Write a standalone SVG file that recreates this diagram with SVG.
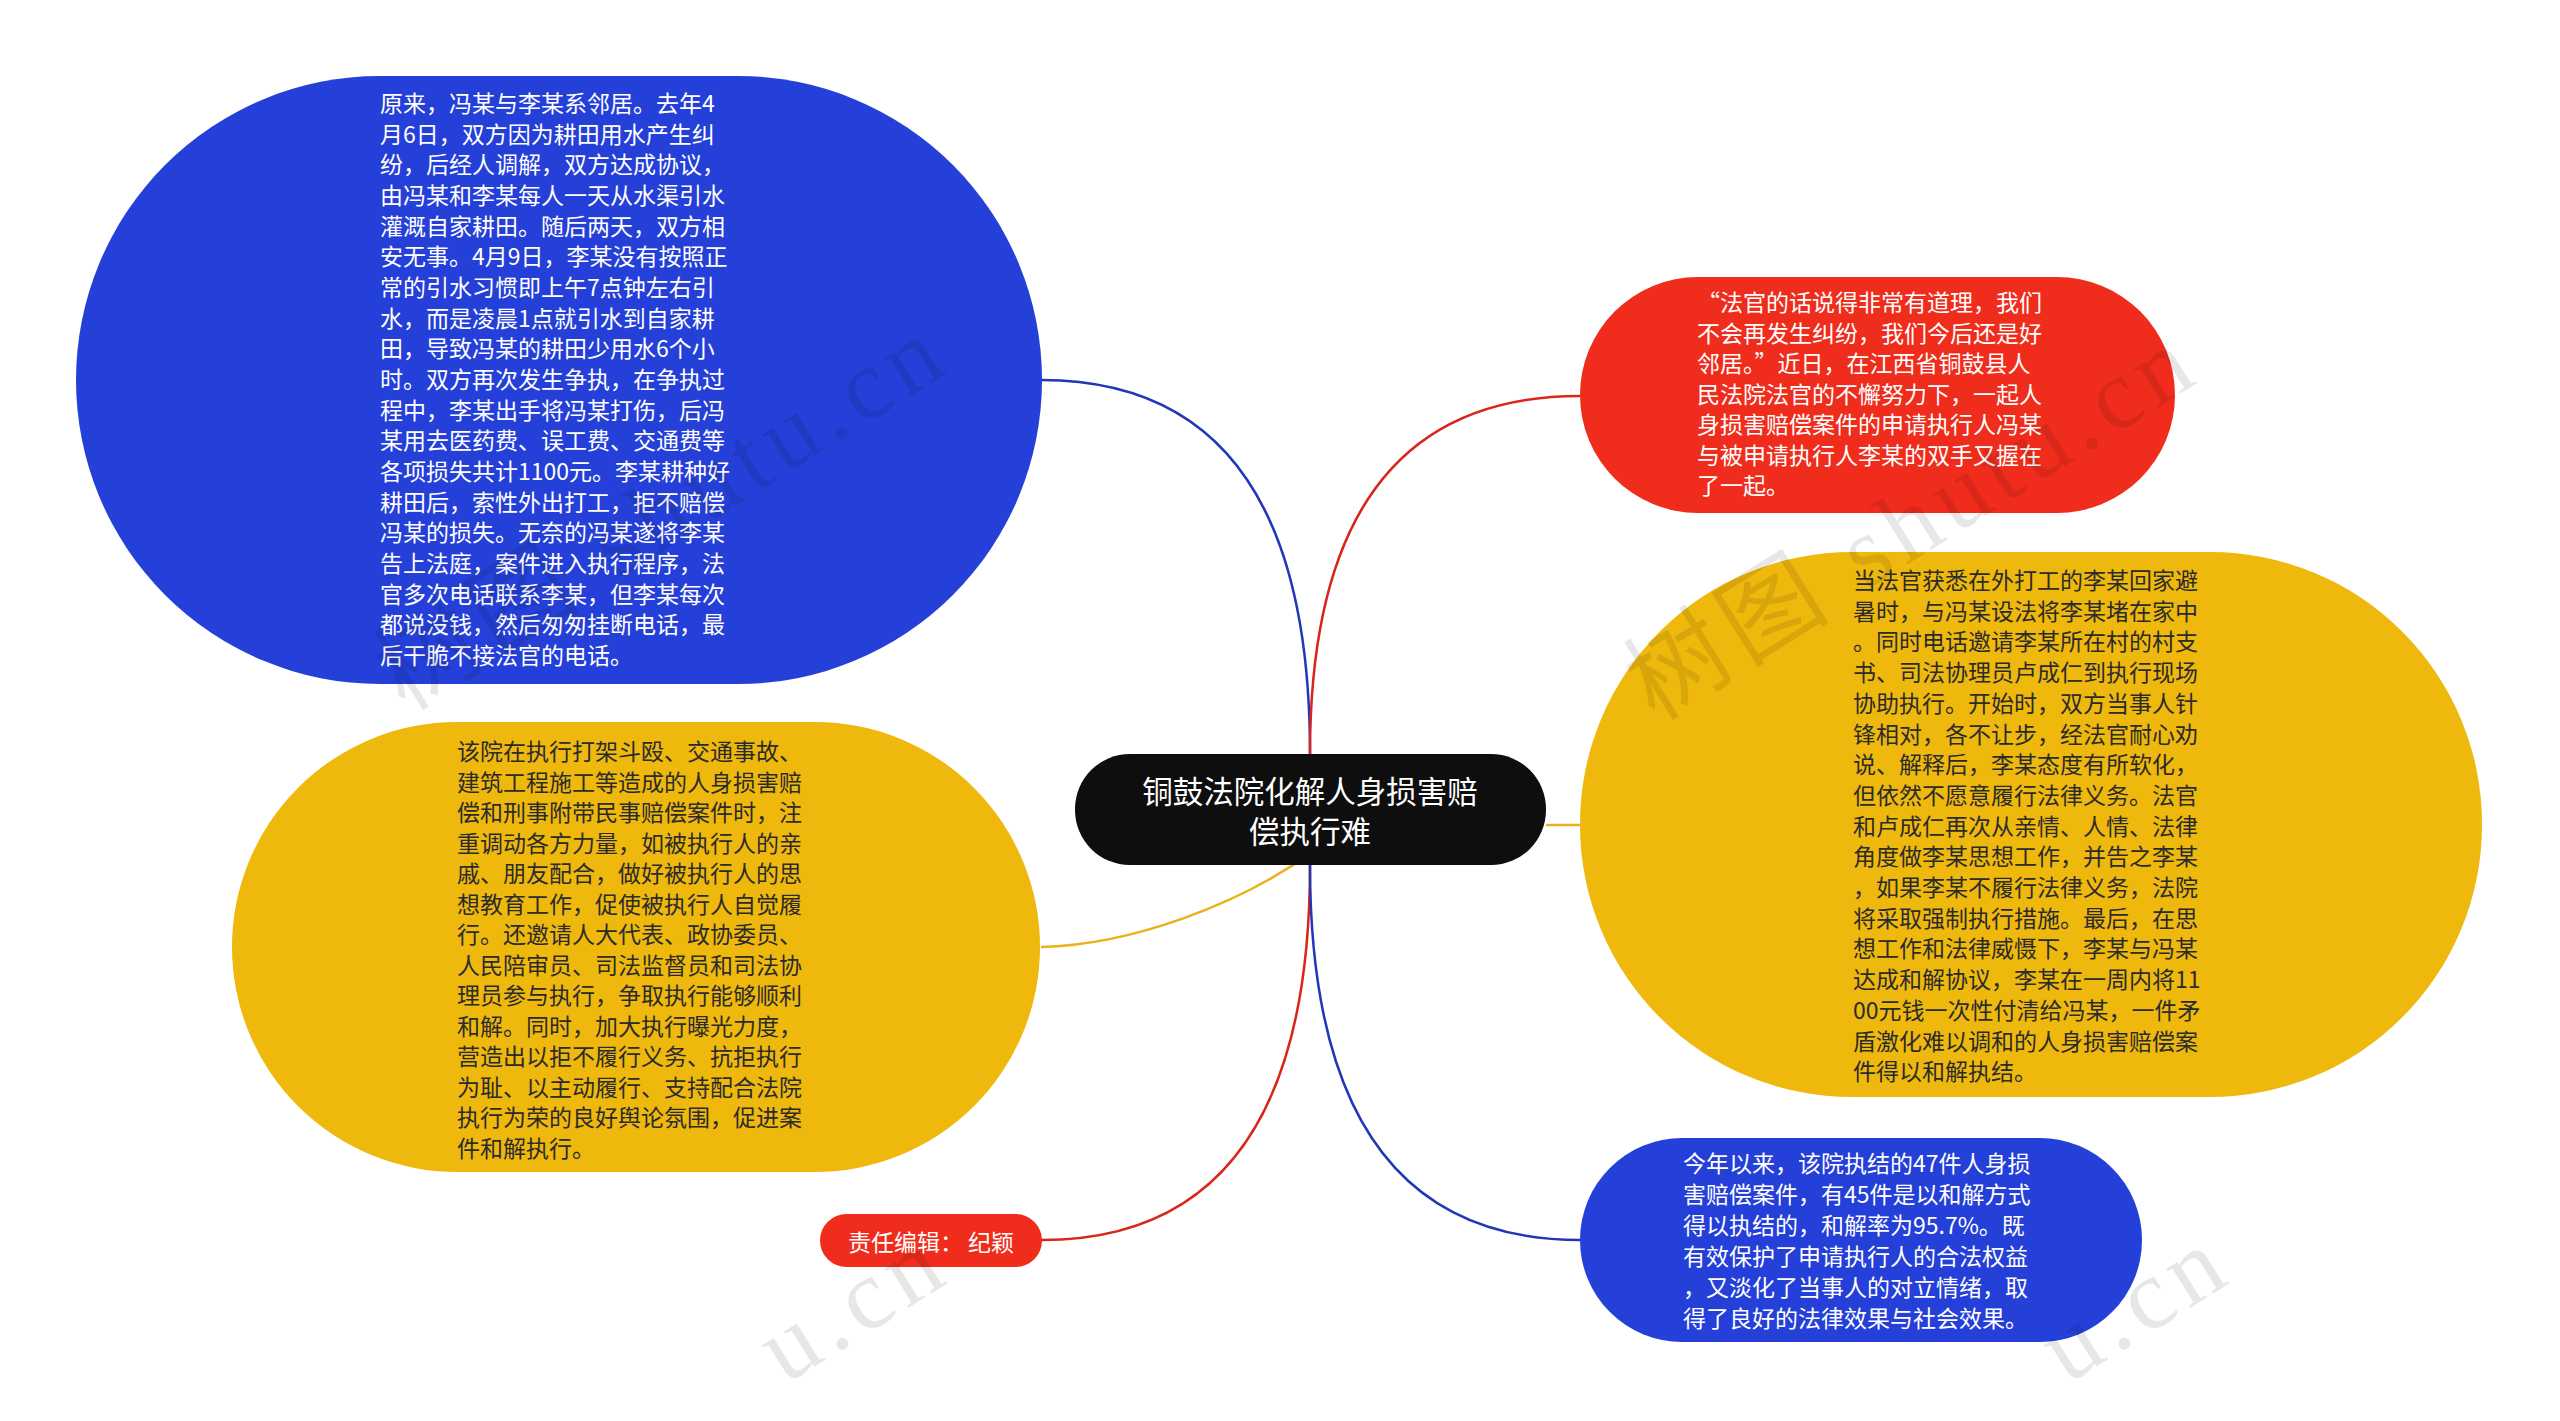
<svg xmlns="http://www.w3.org/2000/svg" width="2560" height="1421" viewBox="0 0 2560 1421">
<style>
.t{font-family:"Noto Sans CJK SC","Noto Sans",sans-serif;font-size:23px;}
.w{fill:#ffffff;}
.d{fill:#2b2b2b;}
.title{font-family:"Noto Sans CJK SC","Noto Sans",sans-serif;font-size:30.5px;fill:#ffffff;}
.conn{fill:none;stroke-width:2.5;}
.wm{font-family:"Liberation Serif","Noto Sans CJK SC",serif;font-size:100px;fill:#000;opacity:0.09;letter-spacing:8px;}
</style>
<rect width="2560" height="1421" fill="#ffffff"/>
<g id="connectors">
<path class="conn" stroke="#2237B8" d="M1310 754 Q1310 380 1041 380"/>
<path class="conn" stroke="#D9261C" d="M1310 754 Q1310 396 1580 396"/>
<path class="conn" stroke="#E9B21A" d="M1546 825 L1580 825"/>
<path class="conn" stroke="#E9B21A" d="M1315 850 C1240 905 1130 945 1041 947"/>
<path class="conn" stroke="#D9261C" d="M1310 865 Q1310 1240 1041 1240"/>
<path class="conn" stroke="#2237B8" d="M1310 865 Q1310 1240 1580 1240"/>
</g>
<g id="center">
<rect x="1075" y="754" width="471" height="111" rx="55" fill="#0E0E0E"/>
<text class="title" text-anchor="middle"><tspan x="1310" y="803">铜鼓法院化解人身损害赔</tspan><tspan x="1310" y="843">偿执行难</tspan></text>
</g>
<g id="node-story">
<rect x="76" y="76" width="966" height="608" rx="304" fill="#2540D8"/>
<text class="t w"><tspan x="380" y="112">原来，冯某与李某系邻居。去年4</tspan><tspan x="380" dy="30.67">月6日，双方因为耕田用水产生纠</tspan><tspan x="380" dy="30.67">纷，后经人调解，双方达成协议，</tspan><tspan x="380" dy="30.67">由冯某和李某每人一天从水渠引水</tspan><tspan x="380" dy="30.67">灌溉自家耕田。随后两天，双方相</tspan><tspan x="380" dy="30.67">安无事。4月9日，李某没有按照正</tspan><tspan x="380" dy="30.67">常的引水习惯即上午7点钟左右引</tspan><tspan x="380" dy="30.67">水，而是凌晨1点就引水到自家耕</tspan><tspan x="380" dy="30.67">田，导致冯某的耕田少用水6个小</tspan><tspan x="380" dy="30.67">时。双方再次发生争执，在争执过</tspan><tspan x="380" dy="30.67">程中，李某出手将冯某打伤，后冯</tspan><tspan x="380" dy="30.67">某用去医药费、误工费、交通费等</tspan><tspan x="380" dy="30.67">各项损失共计1100元。李某耕种好</tspan><tspan x="380" dy="30.67">耕田后，索性外出打工，拒不赔偿</tspan><tspan x="380" dy="30.67">冯某的损失。无奈的冯某遂将李某</tspan><tspan x="380" dy="30.67">告上法庭，案件进入执行程序，法</tspan><tspan x="380" dy="30.67">官多次电话联系李某，但李某每次</tspan><tspan x="380" dy="30.67">都说没钱，然后匆匆挂断电话，最</tspan><tspan x="380" dy="30.67">后干脆不接法官的电话。</tspan></text>
</g>
<g id="node-method">
<rect x="232" y="722" width="808" height="450" rx="225" fill="#EFB80C"/>
<text class="t d"><tspan x="457" y="760">该院在执行打架斗殴、交通事故、</tspan><tspan x="457" dy="30.5">建筑工程施工等造成的人身损害赔</tspan><tspan x="457" dy="30.5">偿和刑事附带民事赔偿案件时，注</tspan><tspan x="457" dy="30.5">重调动各方力量，如被执行人的亲</tspan><tspan x="457" dy="30.5">戚、朋友配合，做好被执行人的思</tspan><tspan x="457" dy="30.5">想教育工作，促使被执行人自觉履</tspan><tspan x="457" dy="30.5">行。还邀请人大代表、政协委员、</tspan><tspan x="457" dy="30.5">人民陪审员、司法监督员和司法协</tspan><tspan x="457" dy="30.5">理员参与执行，争取执行能够顺利</tspan><tspan x="457" dy="30.5">和解。同时，加大执行曝光力度，</tspan><tspan x="457" dy="30.5">营造出以拒不履行义务、抗拒执行</tspan><tspan x="457" dy="30.5">为耻、以主动履行、支持配合法院</tspan><tspan x="457" dy="30.5">执行为荣的良好舆论氛围，促进案</tspan><tspan x="457" dy="30.5">件和解执行。</tspan></text>
</g>
<g id="node-quote">
<rect x="1580" y="277" width="595" height="236" rx="118" fill="#F02D1C"/>
<text class="t w"><tspan x="1697" y="311">“法官的话说得非常有道理，我们</tspan><tspan x="1697" dy="30.5">不会再发生纠纷，我们今后还是好</tspan><tspan x="1697" dy="30.5">邻居。”近日，在江西省铜鼓县人</tspan><tspan x="1697" dy="30.5">民法院法官的不懈努力下，一起人</tspan><tspan x="1697" dy="30.5">身损害赔偿案件的申请执行人冯某</tspan><tspan x="1697" dy="30.5">与被申请执行人李某的双手又握在</tspan><tspan x="1697" dy="30.5">了一起。</tspan></text>
</g>
<g id="node-process">
<rect x="1580" y="552" width="902" height="545" rx="272" fill="#EFB80C"/>
<text class="t d"><tspan x="1853" y="589">当法官获悉在外打工的李某回家避</tspan><tspan x="1853" dy="30.7">暑时，与冯某设法将李某堵在家中</tspan><tspan x="1853" dy="30.7">。同时电话邀请李某所在村的村支</tspan><tspan x="1853" dy="30.7">书、司法协理员卢成仁到执行现场</tspan><tspan x="1853" dy="30.7">协助执行。开始时，双方当事人针</tspan><tspan x="1853" dy="30.7">锋相对，各不让步，经法官耐心劝</tspan><tspan x="1853" dy="30.7">说、解释后，李某态度有所软化，</tspan><tspan x="1853" dy="30.7">但依然不愿意履行法律义务。法官</tspan><tspan x="1853" dy="30.7">和卢成仁再次从亲情、人情、法律</tspan><tspan x="1853" dy="30.7">角度做李某思想工作，并告之李某</tspan><tspan x="1853" dy="30.7">，如果李某不履行法律义务，法院</tspan><tspan x="1853" dy="30.7">将采取强制执行措施。最后，在思</tspan><tspan x="1853" dy="30.7">想工作和法律威慑下，李某与冯某</tspan><tspan x="1853" dy="30.7">达成和解协议，李某在一周内将11</tspan><tspan x="1853" dy="30.7">00元钱一次性付清给冯某，一件矛</tspan><tspan x="1853" dy="30.7">盾激化难以调和的人身损害赔偿案</tspan><tspan x="1853" dy="30.7">件得以和解执结。</tspan></text>
</g>
<g id="node-result">
<rect x="1580" y="1138" width="562" height="204" rx="102" fill="#2540D8"/>
<text class="t w"><tspan x="1683" y="1172">今年以来，该院执结的47件人身损</tspan><tspan x="1683" dy="31">害赔偿案件，有45件是以和解方式</tspan><tspan x="1683" dy="31">得以执结的，和解率为95.7%。既</tspan><tspan x="1683" dy="31">有效保护了申请执行人的合法权益</tspan><tspan x="1683" dy="31">，又淡化了当事人的对立情绪，取</tspan><tspan x="1683" dy="31">得了良好的法律效果与社会效果。</tspan></text>
</g>
<g id="node-editor">
<rect x="820" y="1214" width="222" height="53" rx="26.5" fill="#F02D1C"/>
<text class="t w" text-anchor="middle" x="931" y="1251">责任编辑： 纪颖</text>
</g>
<g id="watermark">
<text class="wm" transform="translate(405 712) rotate(-32)">树图 shutu.cn</text>
<text class="wm" transform="translate(1655 722) rotate(-32)">树图 shutu.cn</text>
<text class="wm" transform="translate(785 1385) rotate(-32)">u.cn</text>
<text class="wm" transform="translate(2067 1385) rotate(-32)">u.cn</text>
</g>
</svg>
